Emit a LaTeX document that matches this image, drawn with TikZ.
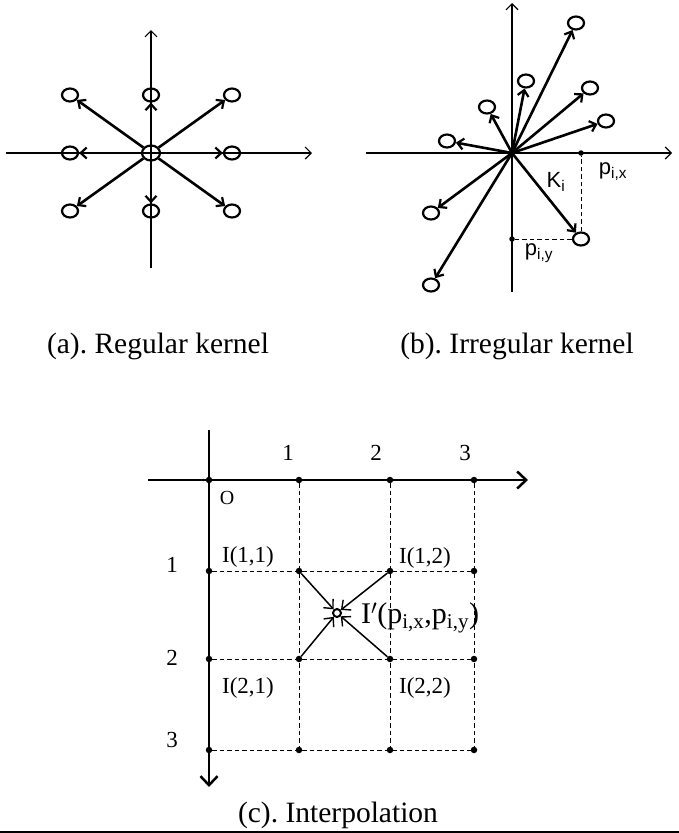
\documentclass[tikz,border=0pt]{standalone}
\usepackage{fontspec}
\setmainfont{Liberation Serif}
\newfontfamily\sansf{Liberation Sans}
\usetikzlibrary{arrows.meta,shapes.geometric}
\frenchspacing
\begin{document}
\begin{tikzpicture}[x=1pt,y=-1pt,
  thinaxis/.style={line width=1.2pt,-{Straight Barb[length=6pt,width=12pt,line width=1.2pt]}},
  bigaxis/.style={line width=2.5pt,-{Straight Barb[length=9pt,width=17pt,line width=2.5pt]}},
  kring/.style={draw,ellipse,line width=2.2pt,minimum width=16pt,minimum height=13pt,inner sep=0pt},
  karrow/.style={line width=2.6pt,-{Straight Barb[length=6pt,width=11pt,line width=2.2pt]}},
  iarrow/.style={line width=1.5pt,-{Straight Barb[length=7pt,width=13pt,line width=1.4pt]}},
  dot/.style={circle,fill,inner sep=0pt,minimum size=6.5pt},
  gridline/.style={line width=1pt,dash pattern=on 4.5pt off 3pt},
  captext/.style={font=\fontsize{29.5}{31}\selectfont,inner sep=0pt},
  num/.style={font=\fontsize{23}{26}\selectfont,inner sep=0pt},
  slab/.style={font=\sansf\fontsize{22}{24}\selectfont,inner sep=0pt}
]
\useasboundingbox (0,0) rectangle (679,833);

% ---------- (a) Regular kernel ----------
\coordinate (aL) at (6,153);
\coordinate (aR) at (312,153);
\coordinate (aB) at (151,268);
\coordinate (aT) at (151,30);
\draw[thinaxis] (aL) -- (aR);
\draw[thinaxis] (aB) -- (aT);
\node[kring,minimum width=18pt,minimum height=15pt] (a0) at (151,153) {};
\node[kring] (a1) at (70,95) {};
\node[kring] (a2) at (151,95) {};
\node[kring] (a3) at (232,95) {};
\node[kring] (a4) at (70,153) {};
\node[kring] (a5) at (232,153) {};
\node[kring] (a6) at (70,211) {};
\node[kring] (a7) at (151,211) {};
\node[kring] (a8) at (232,211) {};
\foreach \n in {1,...,8} \draw[karrow] (a0) -- (a\n);
\node[captext] (capa) at (158,346) {(a). Regular kernel};

% ---------- (b) Irregular kernel ----------
\coordinate (bL) at (366,153);
\coordinate (bR) at (672,153);
\coordinate (bB) at (512,292);
\coordinate (bT) at (512,3);
\draw[thinaxis] (bL) -- (bR);
\draw[thinaxis] (bB) -- (bT);
\coordinate (b0) at (512,153);
\node[kring] (b1) at (576,23) {};
\node[kring] (b2) at (526,81) {};
\node[kring] (b3) at (590,88) {};
\node[kring] (b4) at (606,121) {};
\node[kring] (b5) at (487,107) {};
\node[kring] (b6) at (447,141) {};
\node[kring] (b7) at (431,213) {};
\node[kring] (b8) at (581,239) {};
\node[kring] (b9) at (431,285) {};
\foreach \n in {1,...,9} \draw[karrow] (b0) -- (b\n);
\node[dot,minimum size=5.5pt] (bdx) at (581,153) {};
\node[dot,minimum size=5.5pt] (bdy) at (512,239) {};
\draw[gridline] (b8) -- (bdx);
\draw[gridline] (b8) -- (bdy);
\node[slab] (lpx) at (613,172) {p\textsubscript{i,x}};
\node[slab] (lk) at (556,182) {K\textsubscript{i}};
\node[slab] (lpy) at (539,253) {p\textsubscript{i,y}};
\node[captext] (capb) at (517,346) {(b). Irregular kernel};

% ---------- (c) Interpolation ----------
\coordinate (cL) at (148,480);
\coordinate (cR) at (528,480);
\coordinate (cT) at (209,430);
\coordinate (cB) at (209,787);
\draw[bigaxis] (cL) -- (cR);
\draw[bigaxis] (cT) -- (cB);
\foreach \x [count=\j from 0] in {209,299,390,474}{
  \foreach \y [count=\i from 0] in {480,571,659,750}{
    \node[dot] (g\i\j) at (\x,\y) {};
  }
}
\foreach \j in {1,2,3} \draw[gridline] (g0\j) -- (g3\j);
\foreach \i in {1,2,3} \draw[gridline] (g\i0) -- (g\i3);
\node[circle,draw,line width=2pt,inner sep=0pt,minimum size=8pt] (ip) at (337,613) {};
\draw[iarrow] (g11) -- (ip);
\draw[iarrow] (g12) -- (ip);
\draw[iarrow] (g21) -- (ip);
\draw[iarrow] (g22) -- (ip);
\node[font=\fontsize{30}{32}\selectfont,inner sep=0pt,anchor=west] (ipl) at (361,618)
  {I$'$(p\textsubscript{i,x},p\textsubscript{i,y})};
\node[num] (nx1) at (288,453) {1};
\node[num] (nx2) at (376,453) {2};
\node[num] (nx3) at (465,453) {3};
\node[num] (ny1) at (172,565) {1};
\node[num] (ny2) at (172,658) {2};
\node[num] (ny3) at (172,740) {3};
\node[font=\fontsize{20}{22}\selectfont,inner sep=0pt] (orig) at (227,498) {O};
\node[num] (l11) at (248,557) {I(1,1)};
\node[num] (l12) at (425,558) {I(1,2)};
\node[num] (l21) at (248,688) {I(2,1)};
\node[num] (l22) at (425,688) {I(2,2)};
\node[captext] (capc) at (338,815) {(c). Interpolation};

\coordinate (blL) at (0,832);
\coordinate (blR) at (679,832);
\draw[line width=2.5pt] (blL) -- (blR);
\end{tikzpicture}
\end{document}
